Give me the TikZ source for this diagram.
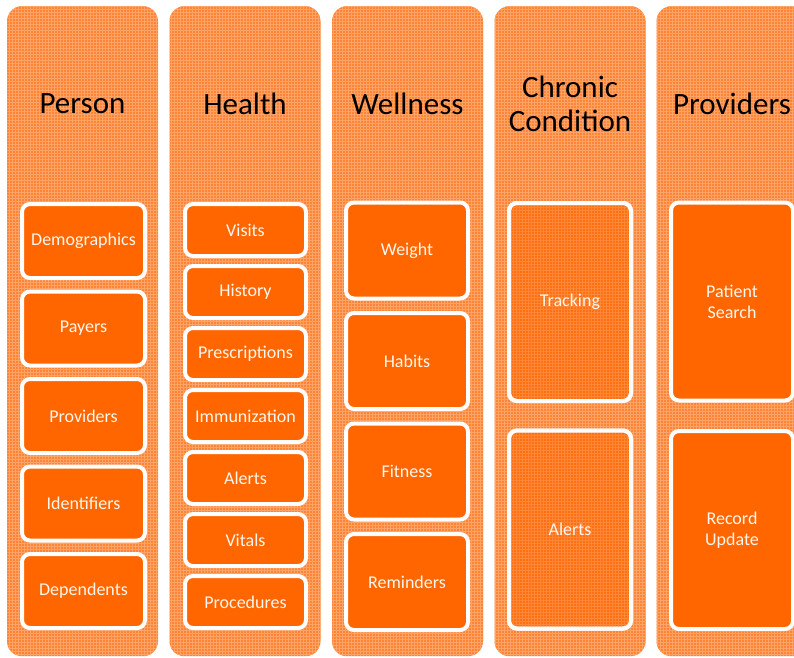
\documentclass[tikz,border=0pt]{standalone}
\usepackage{fontspec}
\setmainfont{Carlito}
\usetikzlibrary{patterns}
\definecolor{colbg}{HTML}{FF8436}
\definecolor{colgrid}{HTML}{FFA466}
\definecolor{itemorange}{HTML}{FF6600}
\definecolor{chronorange}{HTML}{FF7012}
\definecolor{chrongrid}{HTML}{FF8838}
\definecolor{itemtext}{HTML}{FFF6EC}
\tikzset{
  column/.style={fill=colbg, rounded corners=15pt, minimum width=151pt, minimum height=650pt,
    anchor=north, inner sep=0pt, postaction={pattern=grid, pattern color=colgrid}},
  head/.style={font=\fontsize{31}{34}\selectfont, text=black, align=center},
  item/.style={draw=white, line width=4pt, fill=itemorange, rounded corners=8pt,
    text=itemtext, font=\fontsize{18}{21}\selectfont, align=center, inner sep=0pt},
  chron/.style={item, fill=chronorange, postaction={pattern=grid, pattern color=chrongrid},
    postaction={draw=white, line width=4pt}},
}
\begin{document}
\begin{tikzpicture}[x=1pt,y=-1pt]
\useasboundingbox (0,0) rectangle (794,657);
\clip (0,0) rectangle (794,657);
% columns
\node[column] (c1) at (82.5,6) {};
\node[column] (c2) at (245,6) {};
\node[column] (c3) at (407.5,6) {};
\node[column] (c4) at (570,6) {};
\node[column] (c5) at (732,6) {};
% headings
\node[head] (h1) at (82.5,104) {Person};
\node[head] (h2) at (245,104) {Health};
\node[head] (h3) at (407.5,104) {Wellness};
\node[head] (h4) at (570,104) {Chronic\\Condition};
\node[head] (h5) at (732,104) {Providers};
% column 1
\foreach \t [count=\i from 0] in {Demographics,Payers,Providers,Identifiers,Dependents}
  \node[item, minimum width=123pt, minimum height=74pt] (p\i) at (83.5,241+87.5*\i) {\t};
% column 2
\foreach \t [count=\i from 0] in {Visits,History,Prescriptions,Immunization,Alerts,Vitals,Procedures}
  \node[item, minimum width=121pt, minimum height=52pt] (hl\i) at (245.5,230+62*\i) {\t};
% column 3
\foreach \t [count=\i from 0] in {Weight,Habits,Fitness,Reminders}
  \node[item, minimum width=122pt, minimum height=96pt] (w\i) at (407,250.5+110.5*\i) {\t};
% column 4
\node[chron, minimum width=122pt, minimum height=198pt] (cc1) at (570,302) {Tracking};
\node[chron, minimum width=122pt, minimum height=198pt] (cc2) at (570,529.5) {Alerts};
% column 5
\node[item, minimum width=122pt, minimum height=198pt] (pr1) at (732,301.5) {Patient\\Search};
\node[item, minimum width=122pt, minimum height=198pt] (pr2) at (732,530) {Record\\Update};
\end{tikzpicture}
\end{document}
